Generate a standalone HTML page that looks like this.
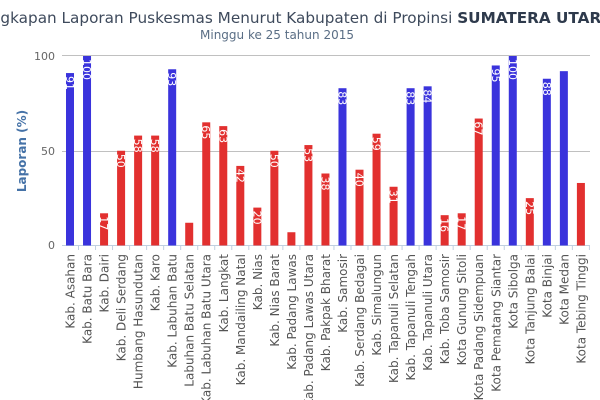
<!DOCTYPE html>
<html><head><meta charset="utf-8"><style>
html,body{margin:0;padding:0;background:#fff;}
svg{display:block;font-family:"DejaVu Sans","Liberation Sans",sans-serif;}
</style></head><body>
<svg width="600" height="400" viewBox="0 0 600 400" xmlns="http://www.w3.org/2000/svg">
<text x="613" y="23" text-anchor="end" font-size="15.25" fill="#3e4a5c">Kelengkapan Laporan Puskesmas Menurut Kabupaten di Propinsi <tspan font-weight="bold" fill="#2e3a4c">SUMATERA UTARA</tspan></text>
<text x="277" y="39" text-anchor="middle" font-size="12" fill="#5a6e85">Minggu ke 25 tahun 2015</text>
<text transform="translate(26,151) rotate(-90)" text-anchor="middle" font-size="12" font-weight="bold" fill="#4572a7">Laporan (%)</text>
<g stroke="#c0c0c0" stroke-width="1">
<line x1="62" y1="55.5" x2="590" y2="55.5"/>
<line x1="62" y1="151.5" x2="590" y2="151.5"/>
<line x1="62" y1="245.5" x2="590" y2="245.5" stroke="#c0d0e0"/>
</g>
<g font-size="11" fill="#666" text-anchor="end">
<text x="55" y="60">100</text><text x="55" y="155">50</text><text x="55" y="249">0</text>
</g>
<g id="bars"></g>
<g id="labels" font-size="12" fill="#555"></g>
<script>
var names=["Kab. Asahan","Kab. Batu Bara","Kab. Dairi","Kab. Deli Serdang","Humbang Hasundutan","Kab. Karo","Kab. Labuhan Batu","Labuhan Batu Selatan","Kab. Labuhan Batu Utara","Kab. Langkat","Kab. Mandailing Natal","Kab. Nias","Kab. Nias Barat","Kab. Padang Lawas","Kab. Padang Lawas Utara","Kab. Pakpak Bharat","Kab. Samosir","Kab. Serdang Bedagai","Kab. Simalungun","Kab. Tapanuli Selatan","Kab. Tapanuli Tengah","Kab. Tapanuli Utara","Kab. Toba Samosir","Kota Gunung Sitoli","Kota Padang Sidempuan","Kota Pematang Siantar","Kota Sibolga","Kota Tanjung Balai","Kota Binjai","Kota Medan","Kota Tebing Tinggi"];
var v=[91,100,17,50,58,58,93,12,65,63,42,20,50,7,53,38,83,40,59,31,83,84,16,17,67,95,100,25,88,92,33];
var hide={7:1,13:1,29:1,30:1};
var ns="http://www.w3.org/2000/svg",b=document.getElementById("bars"),l=document.getElementById("labels");
function el(t,a,p){var e=document.createElementNS(ns,t);for(var k in a)e.setAttribute(k,a[k]);p.appendChild(e);return e;}
for(var i=0;i<31;i++){
 var cx=70+i*17.03,h=v[i]*1.895,y=245.5-h;
 el("rect",{x:cx-4,y:y,width:8,height:h,fill:v[i]>=80?"#3a33dc":"#e2302f"},b);
 el("line",{x1:cx+8.5,y1:245.5,x2:cx+8.5,y2:250,stroke:"#c0d0e0"},b);
 if(!hide[i]){var t=el("text",{transform:"translate("+(cx-4)+","+(y+3)+") rotate(90)","font-size":"11",fill:"#fff"},b);t.textContent=v[i];}
 var s=el("text",{transform:"translate("+(cx+4.5)+",254) rotate(-90)","text-anchor":"end"},l);s.textContent=names[i];
}
</script>
</svg>
</body></html>
